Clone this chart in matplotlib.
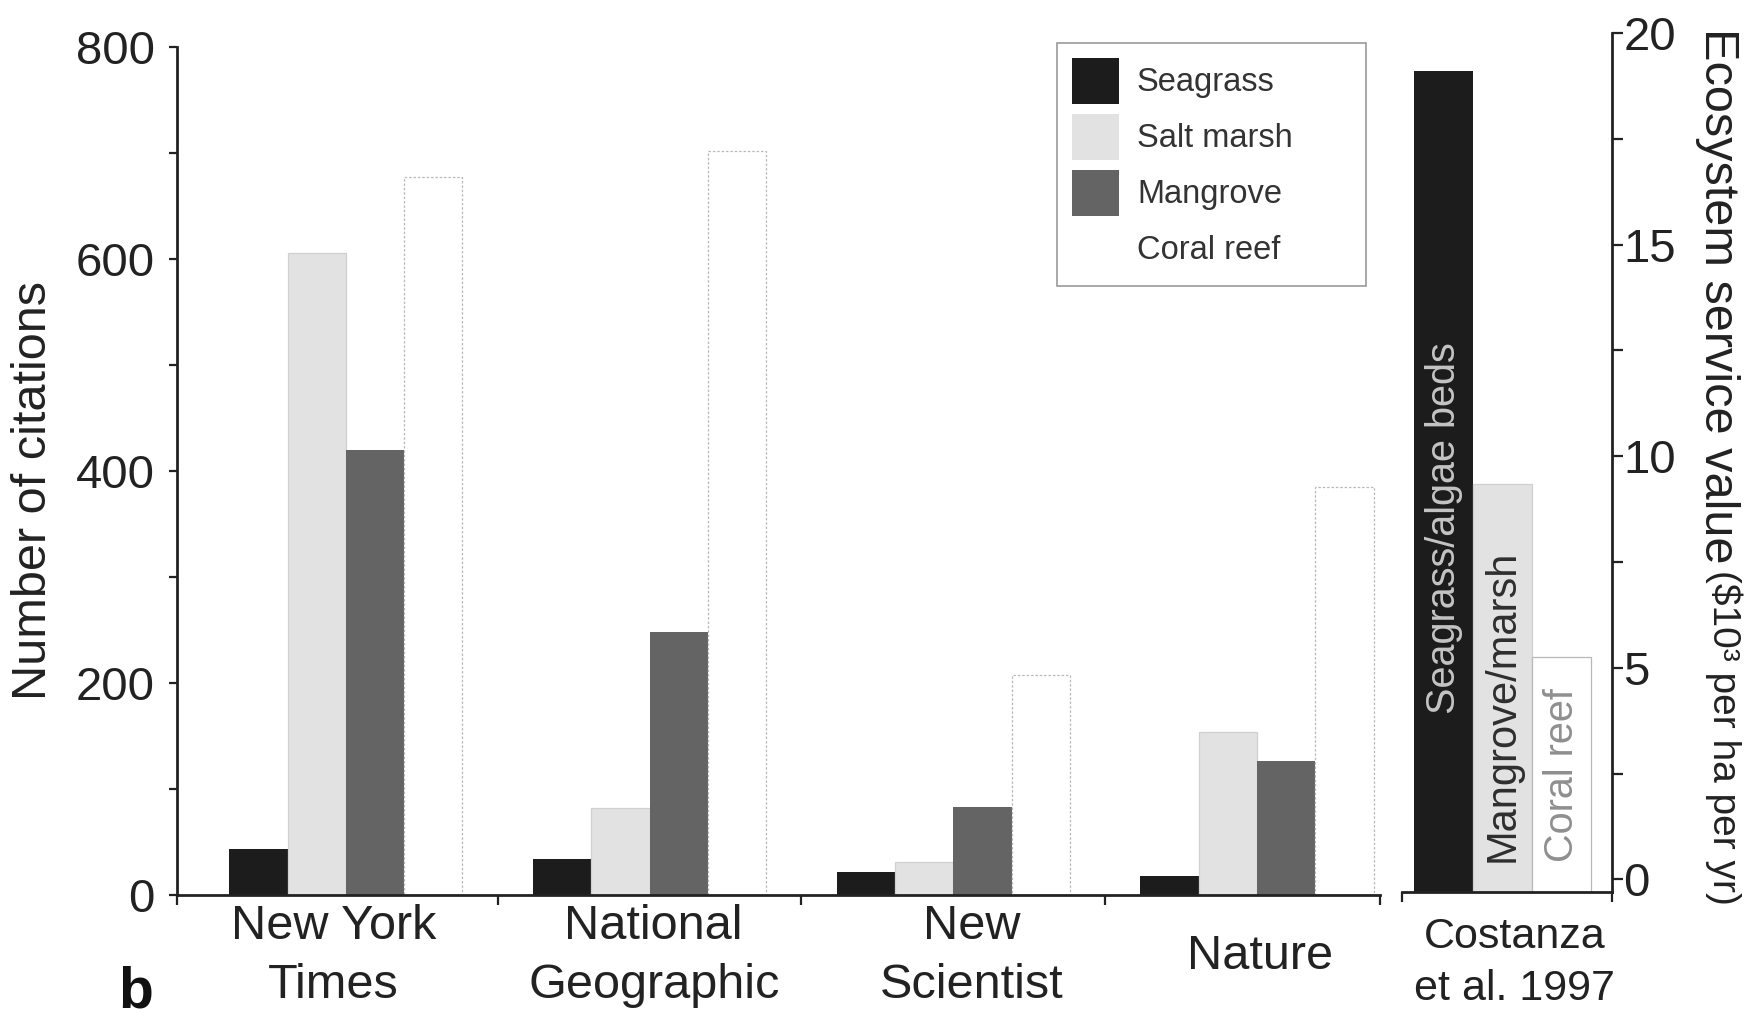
import numpy as np
import matplotlib
matplotlib.use("Agg")
import matplotlib.pyplot as plt
from matplotlib.ticker import MultipleLocator
from matplotlib.patches import Patch
from matplotlib.transforms import ScaledTranslation

# ---------------- data ----------------
CATEGORIES = ["New York\nTimes", "National\nGeographic", "New\nScientist", "Nature"]
SERIES = ["Seagrass", "Salt marsh", "Mangrove", "Coral reef"]
SEAGRASS = [43, 34, 22, 18]
SALT_MARSH = [606, 82, 31, 154]
MANGROVE = [420, 248, 83, 126]
CORAL_REEF = [677, 702, 208, 385]

COSTANZA_LABELS = ["Seagrass/algae beds", "Mangrove/marsh", "Coral reef"]
COSTANZA_VALUES = [19.1, 9.35, 5.25]
COSTANZA_CATEGORY = "Costanza\net al. 1997"

LEFT_TICKS = [0, 200, 400, 600, 800]
RIGHT_TICKS = [0, 5, 10, 15, 20]

# ---------------- style ----------------
plt.rcParams['font.family'] = ['Liberation Sans', 'DejaVu Sans']
TXT = '#222222'
C_SEA = '#1c1c1c'
C_SALT = '#e2e2e2'
C_MANG = '#646464'
C_CORAL = '#ffffff'
SERIES_COLORS = [C_SEA, C_SALT, C_MANG, C_CORAL]
SERIES_EDGES = ['none', '#d0d0d0', 'none', '#b8b8b8']
LABEL_NUDGE_PT = [-9, 3, 13, 2]   # small horizontal nudges of category labels (points)

W, H = 1760, 1017
fig = plt.figure(figsize=(W / 100, H / 100), dpi=100)

# ---------------- main panel ----------------
ax = fig.add_axes([177 / W, 1 - 895 / H, (1380 - 177) / W, (895 - 47) / H])
x = np.arange(len(CATEGORIES))
bw = 0.192
series_vals = [SEAGRASS, SALT_MARSH, MANGROVE, CORAL_REEF]
for i, vals in enumerate(series_vals):
    ax.bar(x + (i - 1.5) * bw, vals, bw, color=SERIES_COLORS[i],
           edgecolor=SERIES_EDGES[i], linewidth=0.9,
           linestyle=(0, (2, 1.5)) if i == 3 else '-', zorder=2)

ax.set_xlim(-0.556, 3.405)
ax.set_ylim(0, 800)
ax.set_yticks(LEFT_TICKS)
ax.yaxis.set_minor_locator(MultipleLocator(100))
ax.tick_params(axis='y', which='both', direction='out', length=6, width=1.6,
               colors=TXT, labelsize=34, pad=10)
ax.set_xticks(x)
ax.set_xticklabels(CATEGORIES, va='center', fontsize=35, linespacing=1.4, color=TXT)
ax.tick_params(axis='x', which='major', length=0, pad=44)
for lbl, dx in zip(ax.get_xticklabels(), LABEL_NUDGE_PT):
    lbl.set_transform(lbl.get_transform() + ScaledTranslation(dx / 72, 0, fig.dpi_scale_trans))
ax.set_xticks([-0.556, 0.5, 1.5, 2.5, 3.405], minor=True)
ax.tick_params(axis='x', which='minor', direction='out', length=7, width=1.6, colors=TXT)
for s in ['top', 'right']:
    ax.spines[s].set_visible(False)
for s in ['left', 'bottom']:
    ax.spines[s].set_linewidth(2.0)
    ax.spines[s].set_color(TXT)

# ---------------- Costanza panel ----------------
Y_FLOOR = -0.3
ax2 = fig.add_axes([1402 / W, 1 - 892 / H, (1612 - 1402) / W, (892 - 33) / H])
xc = np.arange(len(COSTANZA_VALUES))
ax2.bar(xc, np.array(COSTANZA_VALUES) - Y_FLOOR, 1.0, bottom=Y_FLOOR,
        color=[C_SEA, C_SALT, C_CORAL], edgecolor=['none', '#d0d0d0', '#b8b8b8'],
        linewidth=0.9, zorder=2)
ax2.set_xlim(-0.71, 2.85)
ax2.set_ylim(Y_FLOOR, 20)
ax2.yaxis.tick_right()
ax2.set_yticks(RIGHT_TICKS)
ax2.yaxis.set_minor_locator(MultipleLocator(2.5))
ax2.tick_params(axis='y', which='both', direction='out', length=8, width=1.6,
                colors=TXT, labelsize=34, pad=0.2)
ax2.set_xticks([1.2])
ax2.set_xticklabels([COSTANZA_CATEGORY], va='center', fontsize=31, linespacing=1.4, color=TXT)
ax2.tick_params(axis='x', which='major', length=0, pad=51)
ax2.set_xticks([-0.71, 2.85], minor=True)
ax2.tick_params(axis='x', which='minor', direction='out', length=7, width=1.6, colors=TXT)
for s in ['top', 'left']:
    ax2.spines[s].set_visible(False)
for s in ['right', 'bottom']:
    ax2.spines[s].set_linewidth(2.0)
    ax2.spines[s].set_color(TXT)

inbar_colors = ['#c4c4c4', '#2e2e2e', '#8f8f8f']
inbar_y = [3.9, 0.42, 0.42]
inbar_size = [28.5, 30, 28.5]
for i, lab in enumerate(COSTANZA_LABELS):
    ax2.text(xc[i], inbar_y[i], lab, rotation=90, ha='center', va='bottom',
             color=inbar_colors[i], fontsize=inbar_size[i], zorder=3)

# ---------------- labels ----------------
fig.text(34 / W, 1 - 490 / H, "Number of citations", rotation=90,
         ha='center', va='center', fontsize=35, color=TXT)
t1 = fig.text(1717 / W, 1 - 28 / H, "Ecosystem service value", rotation=270,
              ha='center', va='top', fontsize=35, color=TXT)
fig.text(136 / W, 1 - 992 / H, "b", ha='center', va='center',
         fontsize=41, fontweight='bold', color='#111111')

fig.canvas.draw()
bb = t1.get_window_extent(fig.canvas.get_renderer())
fig.text(1724 / W, (bb.y0 - 6) / H, "($10³ per ha per yr)", rotation=270,
         ha='center', va='top', fontsize=28, color=TXT)

# ---------------- legend ----------------
handles = [Patch(facecolor=c, edgecolor='none') for c in SERIES_COLORS]
leg = fig.legend(handles, SERIES, loc='upper left',
                 bbox_to_anchor=(1057 / W, 1 - 285 / H, 309 / W, 242 / H),
                 mode='expand', frameon=True, fancybox=False, framealpha=1,
                 edgecolor='#9a9a9a', fontsize=23.5, handlelength=1.45,
                 handleheight=1.8, labelspacing=0.3, borderpad=0.45,
                 handletextpad=0.55, borderaxespad=0)
leg.get_frame().set_linewidth(1.2)
for t in leg.get_texts():
    t.set_color('#333333')

fig.savefig("out.png", dpi=100)
